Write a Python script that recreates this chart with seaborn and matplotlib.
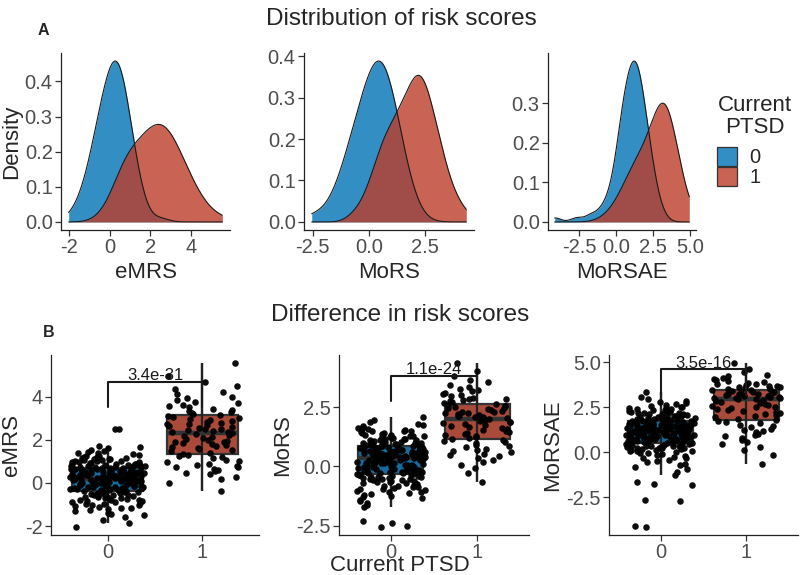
import numpy as np
import pandas as pd
import matplotlib
matplotlib.use("Agg")
import matplotlib.pyplot as plt
import seaborn as sns
from matplotlib.patches import Patch
from matplotlib.colors import to_rgba
from matplotlib.ticker import FixedLocator, FormatStrFormatter

# ---------------- data ----------------
groups = ["0", "1"]
scores = ["eMRS", "MoRS", "MoRSAE"]
pvalues = ["3.4e-31", "1.1e-24", "3.5e-16"]
bracket_y = [4.7, 3.8, 4.6]

top_xticks = [[-2, 0, 2, 4], [-2.5, 0.0, 2.5], [-2.5, 0.0, 2.5, 5.0]]
top_yticks = [[0.0, 0.1, 0.2, 0.3, 0.4], [0.0, 0.1, 0.2, 0.3, 0.4], [0.0, 0.1, 0.2, 0.3]]
bot_yticks = [[-2, 0, 2, 4], [-2.5, 0.0, 2.5], [-2.5, 0.0, 2.5, 5.0]]
tick_fmt = ["%d", "%.1f", "%.1f"]

emrs_0 = [-2.03, -1.87, -1.70, -1.59, -1.50, -1.43, -1.37, -1.31, -1.26, -1.22,
          -1.18, -1.14, -1.10, -1.07, -1.04, -1.01, -0.98, -0.95, -0.93, -0.90,
          -0.88, -0.85, -0.83, -0.81, -0.79, -0.77, -0.75, -0.73, -0.71, -0.69,
          -0.67, -0.65, -0.64, -0.62, -0.60, -0.59, -0.57, -0.55, -0.54, -0.52,
          -0.51, -0.49, -0.48, -0.46, -0.45, -0.44, -0.42, -0.41, -0.39, -0.38,
          -0.37, -0.35, -0.34, -0.33, -0.31, -0.30, -0.29, -0.28, -0.26, -0.25,
          -0.24, -0.23, -0.22, -0.20, -0.19, -0.18, -0.17, -0.16, -0.14, -0.13,
          -0.12, -0.11, -0.10, -0.09, -0.08, -0.07, -0.05, -0.04, -0.03, -0.02,
          -0.01, 0.00, 0.01, 0.02, 0.03, 0.04, 0.06, 0.07, 0.08, 0.09,
          0.10, 0.11, 0.12, 0.13, 0.14, 0.15, 0.16, 0.17, 0.18, 0.20,
          0.20, 0.21, 0.22, 0.23, 0.24, 0.25, 0.26, 0.27, 0.28, 0.28,
          0.29, 0.30, 0.31, 0.32, 0.33, 0.34, 0.35, 0.36, 0.36, 0.37,
          0.38, 0.39, 0.40, 0.41, 0.42, 0.43, 0.44, 0.45, 0.46, 0.47,
          0.47, 0.48, 0.49, 0.50, 0.51, 0.52, 0.53, 0.54, 0.55, 0.56,
          0.57, 0.58, 0.59, 0.60, 0.61, 0.62, 0.63, 0.65, 0.66, 0.67,
          0.68, 0.69, 0.70, 0.71, 0.72, 0.74, 0.75, 0.76, 0.77, 0.78,
          0.80, 0.81, 0.82, 0.83, 0.85, 0.86, 0.87, 0.89, 0.90, 0.92,
          0.93, 0.95, 0.96, 0.98, 1.00, 1.01, 1.03, 1.05, 1.07, 1.09,
          1.11, 1.13, 1.15, 1.17, 1.20, 1.22, 1.25, 1.27, 1.30, 1.33,
          1.37, 1.41, 1.45, 1.49, 1.54, 1.60, 1.68, 1.72, 2.48, 2.51]
emrs_1 = [-0.35, 0.01, 0.18, 0.30, 0.40, 0.48, 0.55, 0.61, 0.66, 0.72,
          0.76, 0.81, 0.85, 0.89, 0.96, 1.02, 1.08, 1.14, 1.20, 1.26,
          1.31, 1.36, 1.41, 1.46, 1.51, 1.56, 1.61, 1.65, 1.70, 1.75,
          1.79, 1.83, 1.88, 1.92, 1.96, 2.01, 2.05, 2.09, 2.13, 2.17,
          2.22, 2.26, 2.30,
          2.34, 2.37, 2.41, 2.45, 2.49, 2.52, 2.56, 2.60, 2.64, 2.68,
          2.72, 2.75, 2.80, 2.84, 2.88, 2.92, 2.96, 3.00, 3.05, 3.09,
          3.14, 3.19, 3.23, 3.28, 3.33, 3.39, 3.44, 3.50, 3.56, 3.62,
          3.69, 3.76, 3.83, 3.92, 4.00, 4.10, 4.21, 4.34, 4.49, 4.68,
          4.95, 5.55]
mors_0 = [-2.55, -2.52, -2.40, -2.30, -1.70, -1.61, -1.53, -1.47, -1.41, -1.35,
          -1.30, -1.26, -1.21, -1.17, -1.14, -1.10, -1.07, -1.03, -1.00, -0.97,
          -0.94, -0.91, -0.89, -0.86, -0.84, -0.81, -0.79, -0.76, -0.74, -0.72,
          -0.70, -0.68, -0.65, -0.63, -0.61, -0.59, -0.57, -0.55, -0.54, -0.52,
          -0.50, -0.48, -0.46, -0.45, -0.43, -0.41, -0.40, -0.38, -0.36, -0.35,
          -0.33, -0.31, -0.30, -0.28, -0.27, -0.25, -0.24, -0.22, -0.21, -0.19,
          -0.18, -0.16, -0.15, -0.13, -0.12, -0.11, -0.09, -0.08, -0.06, -0.05,
          -0.04, -0.02, -0.01, 0.00, 0.02, 0.03, 0.05, 0.06, 0.07, 0.09,
          0.10, 0.11, 0.12, 0.14, 0.15, 0.16, 0.18, 0.19, 0.20, 0.22,
          0.23, 0.24, 0.25, 0.27, 0.28, 0.29, 0.31, 0.32, 0.33, 0.34,
          0.35, 0.36, 0.37, 0.38, 0.39, 0.40, 0.41, 0.42, 0.43, 0.44,
          0.45, 0.46, 0.47, 0.48, 0.49, 0.50, 0.51, 0.52, 0.53, 0.54,
          0.55, 0.56, 0.57, 0.57, 0.58, 0.59, 0.60, 0.61, 0.62, 0.63,
          0.64, 0.65, 0.66, 0.68, 0.69, 0.70, 0.71, 0.72, 0.73, 0.74,
          0.75, 0.76, 0.77, 0.78, 0.79, 0.80, 0.82, 0.83, 0.84, 0.85,
          0.86, 0.87, 0.89, 0.90, 0.91, 0.92, 0.94, 0.95, 0.96, 0.98,
          0.99, 1.00, 1.02, 1.03, 1.04, 1.06, 1.07, 1.09, 1.10, 1.12,
          1.14, 1.15, 1.17, 1.19, 1.20, 1.22, 1.24, 1.26, 1.28, 1.30,
          1.32, 1.34, 1.37, 1.39, 1.42, 1.44, 1.47, 1.49, 1.51, 1.54,
          1.56, 1.59, 1.62, 1.65, 1.69, 1.73, 1.78, 1.85, 1.94, 2.08]
mors_1 = [-0.66, -0.28, -0.08, 0.06, 0.17, 0.27, 0.34, 0.42, 0.48, 0.54,
          0.60, 0.65, 0.70, 0.74, 0.80, 0.86, 0.91, 0.97, 1.02, 1.07,
          1.11, 1.16, 1.21, 1.25, 1.30, 1.34, 1.38, 1.42, 1.46, 1.50,
          1.55, 1.58, 1.62, 1.66, 1.70, 1.74, 1.78, 1.81, 1.85, 1.89,
          1.93, 1.96, 2.00,
          2.03, 2.06, 2.08, 2.11, 2.14, 2.17, 2.20, 2.23, 2.25, 2.28,
          2.31, 2.34, 2.37, 2.40, 2.44, 2.47, 2.50, 2.53, 2.56, 2.60,
          2.63, 2.67, 2.70, 2.74, 2.78, 2.82, 2.86, 2.90, 2.95, 3.00,
          3.05, 3.10, 3.16, 3.22, 3.28, 3.36, 3.44, 3.54, 3.65, 3.80,
          4.00, 4.35]
morsae_0 = [-4.15, -4.10, -2.70, -2.66, -1.82, -1.75, -1.65, -1.25, -1.10, -0.96,
            -0.85, -0.74, -0.65, -0.56, -0.49, -0.42, -0.35, -0.30, -0.24, -0.19,
            -0.15, -0.11, -0.07, -0.03, 0.00, 0.04, 0.07, 0.09, 0.12, 0.14,
            0.16, 0.19, 0.21, 0.23, 0.24, 0.26, 0.28, 0.30, 0.32, 0.33,
            0.35, 0.37, 0.38, 0.40, 0.42, 0.43, 0.45, 0.46, 0.48, 0.50,
            0.51, 0.53, 0.54, 0.56, 0.57, 0.58, 0.60, 0.61, 0.63, 0.64,
            0.65, 0.67, 0.68, 0.69, 0.71, 0.72, 0.73, 0.75, 0.76, 0.77,
            0.79, 0.80, 0.81, 0.83, 0.84, 0.85, 0.86, 0.88, 0.89, 0.90,
            0.91, 0.93, 0.94, 0.95, 0.96, 0.97, 0.99, 1.00, 1.01, 1.02,
            1.04, 1.05, 1.06, 1.07, 1.08, 1.10, 1.11, 1.12, 1.13, 1.14,
            1.16, 1.17, 1.18, 1.19, 1.20, 1.21, 1.22, 1.23, 1.24, 1.25,
            1.26, 1.27, 1.28, 1.30, 1.31, 1.32, 1.33, 1.34, 1.35, 1.36,
            1.37, 1.38, 1.39, 1.40, 1.42, 1.43, 1.44, 1.45, 1.46, 1.47,
            1.48, 1.49, 1.51, 1.52, 1.53, 1.54, 1.55, 1.57, 1.58, 1.59,
            1.60, 1.61, 1.63, 1.64, 1.65, 1.66, 1.68, 1.69, 1.70, 1.72,
            1.73, 1.74, 1.76, 1.77, 1.79, 1.80, 1.81, 1.83, 1.84, 1.86,
            1.87, 1.89, 1.90, 1.92, 1.94, 1.95, 1.97, 1.99, 2.00, 2.02,
            2.04, 2.06, 2.08, 2.10, 2.12, 2.14, 2.16, 2.18, 2.20, 2.23,
            2.25, 2.28, 2.30, 2.33, 2.36, 2.39, 2.42, 2.45, 2.48, 2.51,
            2.54, 2.58, 2.62, 2.67, 2.72, 2.78, 2.85, 2.94, 3.08, 3.34]
morsae_1 = [-0.68, -0.16, 0.11, 0.30, 0.45, 0.58, 0.69, 0.79, 0.88, 0.96,
            1.03, 1.10, 1.17, 1.23, 1.31, 1.39, 1.47, 1.54, 1.61, 1.68,
            1.74, 1.81, 1.87, 1.93, 1.99, 2.05, 2.11, 2.16, 2.22, 2.27,
            2.33, 2.38, 2.44, 2.49, 2.54, 2.59, 2.64, 2.70, 2.75, 2.80,
            2.85, 2.90, 2.95,
            2.97, 3.00, 3.02, 3.04, 3.07, 3.09, 3.11, 3.14, 3.16, 3.19,
            3.21, 3.24, 3.26, 3.29, 3.31, 3.34, 3.36, 3.39, 3.42, 3.45,
            3.48, 3.51, 3.54, 3.57, 3.60, 3.63, 3.67, 3.70, 3.74, 3.78,
            3.82, 3.86, 3.91, 3.96, 4.02, 4.08, 4.15, 4.23, 4.32, 4.44,
            4.61, 4.95]

series = {"eMRS": (emrs_0, emrs_1), "MoRS": (mors_0, mors_1), "MoRSAE": (morsae_0, morsae_1)}

rows = []
for s in scores:
    for g, vals in zip(groups, series[s]):
        for v in vals:
            rows.append((s, g, v))
df = pd.DataFrame(rows, columns=["score", "group", "value"])

# ---------------- style ----------------
sns.set_theme(style="ticks")
plt.rcParams["font.family"] = ["Liberation Sans", "DejaVu Sans"]
plt.rcParams["axes.linewidth"] = 0.9
pal = {"0": "#0072B5", "1": "#BC3C29"}
tick_col = "#4D4D4D"
TICK_FS, LAB_FS, TITLE_FS = 14.5, 16, 17.5
# smoothing of each density curve (group 0, group 1)
bw_adjusts = {"eMRS": (1.7, 1.2), "MoRS": (2.0, 1.0), "MoRSAE": (1.4, 1.6)}

W, H = 800, 575
fig = plt.figure(figsize=(W / 100, H / 100), dpi=100)


def rect(l, r, t, b):
    return [l / W, 1 - b / H, (r - l) / W, (b - t) / H]


top_rects = [rect(61, 230, 53, 230), rect(304, 474, 53, 230), rect(548, 696, 53, 230)]
bot_rects = [rect(51, 259, 355, 535), rect(339, 529, 355, 535), rect(609, 798, 355, 535)]


def nrd0(kde):
    # R's default bandwidth (bw.nrd0), expressed as a factor of the data sd
    x = np.asarray(kde.dataset).ravel()
    sd = x.std(ddof=1)
    q75, q25 = np.percentile(x, [75, 25])
    h = 0.9 * min(sd, (q75 - q25) / 1.34) * x.size ** -0.2
    return h / sd


def style_axis(ax):
    sns.despine(ax=ax)
    ax.tick_params(axis="both", labelsize=TICK_FS, labelcolor=tick_col, length=4,
                   width=0.9, color="#333333", pad=2)
    for sp in ("left", "bottom"):
        ax.spines[sp].set_color("#222222")


# ---------------- top row: densities ----------------
for i, s in enumerate(scores):
    ax = fig.add_axes(top_rects[i])
    sub = df[df.score == s]
    lo, hi = sub.value.min(), sub.value.max()
    for j, g in enumerate(groups):
        vals = sub[sub.group == g].value
        kw = dict(bw_method=nrd0, bw_adjust=bw_adjusts[s][j], cut=20, clip=(lo, hi),
                  gridsize=500)
        sns.kdeplot(x=vals, ax=ax, fill=True, color=pal[g], alpha=0.8, linewidth=0, **kw)
        sns.kdeplot(x=vals, ax=ax, color="#1a1a1a", linewidth=0.8, **kw)
    ymax = max(l.get_ydata().max() for l in ax.lines)
    span = hi - lo
    ax.set_xlim(lo - 0.05 * span, hi + 0.05 * span)
    ax.set_ylim(-0.05 * ymax, 1.05 * ymax)
    ax.xaxis.set_major_locator(FixedLocator(top_xticks[i]))
    ax.xaxis.set_major_formatter(FormatStrFormatter(tick_fmt[i]))
    ax.yaxis.set_major_locator(FixedLocator(top_yticks[i]))
    ax.yaxis.set_major_formatter(FormatStrFormatter("%.1f"))
    ax.set_xlabel(s, fontsize=LAB_FS, labelpad=3)
    ax.set_ylabel("Density" if i == 0 else "", fontsize=LAB_FS, labelpad=2)
    style_axis(ax)

# ---------------- bottom row: boxplots ----------------
np.random.seed(7)
for i, s in enumerate(scores):
    ax = fig.add_axes(bot_rects[i])
    sub = df[df.score == s]
    sns.boxplot(data=sub, x="group", y="value", hue="group", palette=pal, order=groups,
                width=0.75, showfliers=False, showcaps=False, linewidth=1.6,
                linecolor="#333333", legend=False, ax=ax,
                medianprops={"linewidth": 3.2, "color": "#333333"},
                whiskerprops={"linewidth": 1.6, "color": "#222222"})
    # whisker line runs through the box, as in the reference
    spans = {}
    for ln in list(ax.lines):
        xd, yd = np.asarray(ln.get_xdata(), float), np.asarray(ln.get_ydata(), float)
        if len(xd) == 2 and np.isclose(xd[0], xd[1]):
            k = round(float(xd[0]), 3)
            a, b = spans.get(k, (np.inf, -np.inf))
            spans[k] = (min(a, yd.min()), max(b, yd.max()))
    for k, (a, b) in spans.items():
        ax.vlines(k, a, b, color="#222222", lw=1.6, zorder=2.6)
    for ln in ax.lines:
        xd = np.asarray(ln.get_xdata(), float)
        if len(xd) == 2 and not np.isclose(xd[0], xd[1]):
            ln.set_zorder(2.7)
    sns.stripplot(data=sub, x="group", y="value", order=groups, color="black",
                  size=4.7, jitter=0.4, linewidth=0, alpha=0.95, ax=ax, zorder=3)
    lo, hi = sub.value.min(), sub.value.max()
    span = hi - lo
    ax.set_ylim(lo - 0.05 * span, hi + 0.05 * span)
    ax.set_xlim(-0.6, 1.6)
    yb = bracket_y[i]
    leg = 0.14 * 1.1 * span
    ax.plot([0, 0, 1, 1], [yb - leg, yb, yb, yb - leg], color="#1a1a1a", lw=1.5, zorder=4)
    ax.text(0.5, yb + 0.012 * span, pvalues[i], ha="center", va="baseline",
            fontsize=12, color="#1a1a1a", zorder=5)
    ax.yaxis.set_major_locator(FixedLocator(bot_yticks[i]))
    ax.yaxis.set_major_formatter(FormatStrFormatter(tick_fmt[i]))
    ax.set_xlabel("")
    ax.set_ylabel(s, fontsize=LAB_FS, labelpad=2)
    style_axis(ax)
    ax.tick_params(axis="x", pad=1.5)

# ---------------- texts ----------------
fig.text(401 / W, 1 - 25 / H, "Distribution of risk scores", ha="center", va="baseline",
         fontsize=TITLE_FS)
fig.text(400 / W, 1 - 321 / H, "Difference in risk scores", ha="center", va="baseline",
         fontsize=TITLE_FS)
fig.text(38 / W, 1 - 35 / H, "A", ha="left", va="baseline", fontsize=11.5, fontweight="bold")
fig.text(43 / W, 1 - 337 / H, "B", ha="left", va="baseline", fontsize=11.5, fontweight="bold")
fig.text(400 / W, 1 - 571 / H, "Current PTSD", ha="center", va="baseline", fontsize=16)

# legend
fig.text(755 / W, 1 - 133 / H, "Current\nPTSD", ha="center", va="baseline",
         multialignment="center", fontsize=LAB_FS, linespacing=1.05)
handles = [Patch(facecolor=to_rgba(pal[g], 0.8), edgecolor="#333333", linewidth=0.9)
           for g in groups]
fig.legend(handles, groups, loc="upper left", bbox_to_anchor=(717 / W, 1 - 147 / H),
           frameon=False, fontsize=TICK_FS, handlelength=1.0, handleheight=1.05,
           labelspacing=0.0, handletextpad=0.6, borderaxespad=0, borderpad=0)

fig.savefig("out.png", dpi=100)
